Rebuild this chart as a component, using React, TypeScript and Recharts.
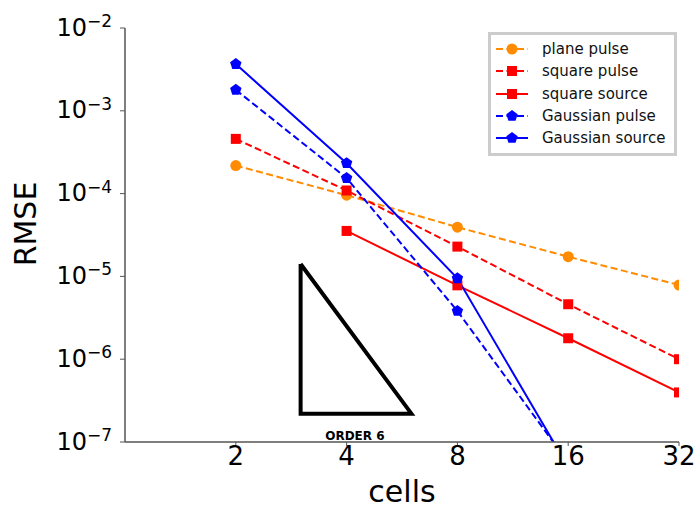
import React from 'react';
import { ComposedChart, Line, XAxis, YAxis, Legend, ReferenceDot } from 'recharts';

const cells = [2, 4, 8, 16, 32];
const planePulse = [2.18e-4, 9.57e-5, 3.93e-5, 1.73e-5, 7.87e-6];
const squarePulse = [4.58e-4, 1.09e-4, 2.29e-5, 4.61e-6, 1.0e-6];
const squareSource = [null, 3.54e-5, 7.8e-6, 1.79e-6, 3.97e-7];
const gaussianPulse = [1.79e-3, 1.54e-4, 3.82e-6, 5.65e-8, null];
const gaussianSource = [3.67e-3, 2.33e-4, 9.48e-6, 5.0e-8, null];

const yTicks = [1e-7, 1e-6, 1e-5, 1e-4, 1e-3, 1e-2];

const triangleX = [3, 3, 6, 3];
const triangleY = [1.41e-5, 2.2e-7, 2.2e-7, 1.41e-5];
const orderLabel = 'ORDER 6';

const rows = cells.map((c, i) => ({
  cells: c,
  planePulse: planePulse[i],
  squarePulse: squarePulse[i],
  squareSource: squareSource[i],
  gaussianPulse: gaussianPulse[i],
  gaussianSource: gaussianSource[i],
}));

const triangle = triangleX.map((x, i) => ({ cells: x, v: triangleY[i] }));

const ORANGE = '#ff8c00';
const RED = '#ff0000';
const BLUE = '#0000ff';
const DASH = '7 3.5';
const FONT = '"DejaVu Sans", sans-serif';

type Shape = 'circle' | 'square' | 'pentagon';

const series: { key: string; name: string; color: string; dashed: boolean; shape: Shape }[] = [
  { key: 'planePulse', name: 'plane pulse', color: ORANGE, dashed: true, shape: 'circle' },
  { key: 'squarePulse', name: 'square pulse', color: RED, dashed: true, shape: 'square' },
  { key: 'squareSource', name: 'square source', color: RED, dashed: false, shape: 'square' },
  { key: 'gaussianPulse', name: 'Gaussian pulse', color: BLUE, dashed: true, shape: 'pentagon' },
  { key: 'gaussianSource', name: 'Gaussian source', color: BLUE, dashed: false, shape: 'pentagon' },
];

function marker(shape: Shape, cx: number, cy: number, color: string, key?: any) {
  if (shape === 'circle') return <circle key={key} cx={cx} cy={cy} r={5.5} fill={color} stroke="none" />;
  if (shape === 'square') return <rect key={key} x={cx - 5} y={cy - 5} width={10} height={10} fill={color} stroke="none" />;
  const r = 6;
  const pts = [0, 1, 2, 3, 4]
    .map((k) => {
      const a = ((-90 + k * 72) * Math.PI) / 180;
      return `${cx + r * Math.cos(a)},${cy + r * Math.sin(a)}`;
    })
    .join(' ');
  return <polygon key={key} points={pts} fill={color} stroke="none" />;
}

const makeDot = (shape: Shape, color: string) => (p: any) => {
  if (p.cx == null || p.cy == null || p.value == null || (Array.isArray(p.value) && p.value[1] == null)) {
    return <g key={p.index} />;
  }
  return marker(shape, p.cx, p.cy, color, p.index);
};

const XTick = (props: any) => {
  const { x, y, payload } = props;
  return (
    <text x={x} y={y + 19} textAnchor="middle" fontSize={26} fontFamily={FONT} fill="#000">
      {payload.value}
    </text>
  );
};

const YTick = (props: any) => {
  const { x, y, payload } = props;
  const exp = Math.round(Math.log10(payload.value));
  return (
    <text x={x - 8} y={y + 7.5} textAnchor="end" fontFamily={FONT} fill="#000" fontSize={24}>
      <tspan>10</tspan>
      <tspan dy={-8.5} fontSize={17}>{'\u2212' + Math.abs(exp)}</tspan>
    </text>
  );
};

const renderLegend = () => (
  <div
    style={{
      border: '3px solid #cccccc',
      background: '#fff',
      padding: '3px 4px 4px 5px',
      boxSizing: 'border-box',
      width: 189,
      height: 124,
      fontFamily: FONT,
    }}
  >
    {series.map((s) => (
      <div key={s.key} style={{ display: 'flex', alignItems: 'center', height: 22.25 }}>
        <svg width={34} height={22} style={{ display: 'block', flex: 'none' }}>
          <line x1={0} y1={11} x2={32} y2={11} stroke={s.color} strokeWidth={2} strokeDasharray={s.dashed ? DASH : undefined} />
          {marker(s.shape, 16, 11, s.color)}
        </svg>
        <span style={{ marginLeft: 12, fontSize: 15, color: '#111', whiteSpace: 'nowrap', lineHeight: '22px' }}>{s.name}</span>
      </div>
    ))}
  </div>
);

export default function App() {
  return (
    <div style={{ position: 'absolute', left: 0, top: 0 }}>
      <ComposedChart
        width={694}
        height={506}
        data={rows}
        margin={{ top: 28, right: 15, left: 0, bottom: 0 }}
        style={{ fontFamily: FONT }}
      >
        <XAxis
          dataKey="cells"
          type="number"
          scale="log"
          domain={[1, 32]}
          ticks={cells}
          allowDataOverflow
          height={64}
          tickSize={4}
          tickMargin={0}
          tick={XTick}
          interval={0}
          axisLine={{ stroke: '#555', strokeWidth: 1.5 }}
          tickLine={{ stroke: '#555', strokeWidth: 1 }}
          label={{ value: 'cells', position: 'insideBottom', offset: 4, fontSize: 30, fill: '#000', fontFamily: FONT }}
        />
        <YAxis
          type="number"
          scale="log"
          domain={[1e-7, 1e-2]}
          ticks={yTicks}
          allowDataOverflow
          width={125}
          tickSize={5}
          tickMargin={0}
          tick={YTick}
          interval={0}
          axisLine={{ stroke: '#555', strokeWidth: 1.5 }}
          tickLine={{ stroke: '#555', strokeWidth: 1 }}
          label={{
            content: () => (
              <text
                x={36}
                y={224}
                transform="rotate(-90 36 224)"
                textAnchor="middle"
                fontSize={30}
                fontFamily={FONT}
                fill="#000"
              >
                RMSE
              </text>
            ),
          }}
        />
        <Line
          data={triangle}
          dataKey="v"
          stroke="#000"
          strokeWidth={4}
          strokeLinejoin="miter"
          dot={false}
          activeDot={false}
          isAnimationActive={false}
          legendType="none"
        />
        <ReferenceDot
          x={4.24}
          y={2.2e-7}
          r={0}
          fill="none"
          stroke="none"
          label={{
            content: (p: any) => {
              const vb = p.viewBox || {};
              return (
                <text x={vb.x - 1} y={vb.y + 26} textAnchor="middle" fontSize={12} fontWeight="bold" fontFamily={FONT} fill="#000">
                  {orderLabel}
                </text>
              );
            },
          }}
        />
        {series.map((s) => (
          <Line
            key={s.key}
            dataKey={s.key}
            name={s.name}
            stroke={s.color}
            strokeWidth={2}
            strokeDasharray={s.dashed ? DASH : undefined}
            dot={makeDot(s.shape, s.color)}
            activeDot={false}
            isAnimationActive={false}
            connectNulls={false}
          />
        ))}
        <Legend
          layout="vertical"
          align="center"
          verticalAlign="middle"
          content={renderLegend}
          wrapperStyle={{ position: 'absolute', left: 488, top: 32, width: 189, height: 124, right: 'auto', bottom: 'auto' }}
        />
      </ComposedChart>
    </div>
  );
}
